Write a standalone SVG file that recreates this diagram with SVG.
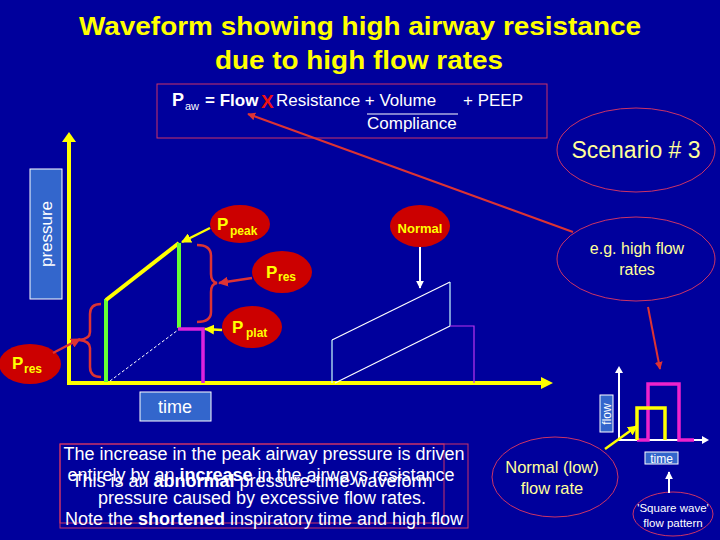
<svg xmlns="http://www.w3.org/2000/svg" width="720" height="540" viewBox="0 0 720 540">
<defs>
<style>
.t{font-family:"Liberation Sans",Arial,sans-serif}
.b{font-weight:bold}
.yl{fill:#FFFF00}
.py{fill:#FFFF99}
.wh{fill:#FFFFFF}
.red{fill:#CC0000}
.ol{fill:none;stroke:#CC3366;stroke-width:1}
.box{fill:#3366CC;stroke:#FFFFFF;stroke-width:1}
</style>
<marker id="ay" viewBox="0 0 10 10" refX="9" refY="5" markerWidth="4" markerHeight="4" orient="auto" markerUnits="strokeWidth"><path d="M0,0 L10,5 L0,10 z" fill="#FFFF00"/></marker>
<marker id="aw" viewBox="0 0 10 10" refX="9" refY="5" markerWidth="4" markerHeight="4" orient="auto" markerUnits="strokeWidth"><path d="M0,0 L10,5 L0,10 z" fill="#FFFFFF"/></marker>
<marker id="ar" viewBox="0 0 10 10" refX="9" refY="5" markerWidth="4" markerHeight="4" orient="auto" markerUnits="strokeWidth"><path d="M0,0 L10,5 L0,10 z" fill="#DD3333"/></marker>
</defs>
<rect width="720" height="540" fill="#00009C"/>

<g id="title" class="t b yl" font-size="26" text-anchor="middle">
<text x="360" y="35" textLength="562" lengthAdjust="spacingAndGlyphs">Waveform showing high airway resistance</text>
<text x="359" y="69" textLength="288" lengthAdjust="spacingAndGlyphs">due to high flow rates</text>
</g>

<g id="formula">
<rect x="157" y="84" width="390" height="54" class="ol" stroke-width="1.2"/>
<text class="t b wh" x="172" y="106" font-size="18">P</text>
<text class="t wh" x="185" y="110" font-size="11">aw</text>
<text class="t b wh" x="205" y="106" font-size="17">= Flow</text>
<text class="t b" x="261" y="108" font-size="19" fill="#EE1111">X</text>
<text class="t wh" x="276" y="106" font-size="17">Resistance + Volume</text>
<text class="t wh" x="463" y="106" font-size="17">+ PEEP</text>
<line x1="367" y1="114" x2="458" y2="114" stroke="#FFFFFF" stroke-width="1.2"/>
<text class="t wh" x="367" y="129" font-size="17">Compliance</text>
</g>

<g id="scenario">
<ellipse cx="636" cy="150" rx="79" ry="42" class="ol"/>
<text class="t py" x="636" y="158" font-size="23" text-anchor="middle">Scenario # 3</text>
</g>

<g id="high-flow">
<ellipse cx="636" cy="259" rx="79" ry="42" class="ol"/>
<text class="t py" x="637" y="254" font-size="16" text-anchor="middle">e.g. high flow</text>
<text class="t py" x="637" y="275" font-size="16" text-anchor="middle">rates</text>
</g>

<g id="pressure-label">
<rect x="30" y="169" width="32" height="130" class="box"/>
<text class="t wh" font-size="17" text-anchor="middle" transform="translate(52,234) rotate(-90)">pressure</text>
</g>

<g id="time-label">
<rect x="140" y="392" width="71" height="29" class="box"/>
<text class="t wh" x="175" y="413" font-size="18" text-anchor="middle">time</text>
</g>

<g id="axes">
<line x1="69" y1="140" x2="69" y2="383" stroke="#FFFF00" stroke-width="4"/>
<polygon points="62,142 69,132 76,142" fill="#FFFF00"/>
<line x1="67" y1="383" x2="542" y2="383" stroke="#FFFF00" stroke-width="4"/>
<polygon points="541,377 553,383 541,389" fill="#FFFF00"/>
</g>

<g id="waveform-high">
<line x1="106" y1="382" x2="106" y2="299" stroke="#66FF33" stroke-width="4"/>
<line x1="106" y1="300" x2="179" y2="243" stroke="#FFFF00" stroke-width="4"/>
<line x1="179" y1="243" x2="179" y2="328" stroke="#66FF33" stroke-width="4"/>
<polyline points="178,329 203,329 203,383" fill="none" stroke="#DD22DD" stroke-width="3.5"/>
<line x1="110" y1="381" x2="178" y2="330" stroke="#FFFFFF" stroke-width="1" stroke-dasharray="3,2"/>
<path d="M101,304 Q90,304 90,314 L90,332 Q90,339 79,340 Q90,341 90,348 L90,367 Q90,377 101,377" fill="none" stroke="#DD3333" stroke-width="2.5"/>
<path d="M197,245 Q211,245 211,256 L211,274 Q211,282 217,283 Q211,284 211,292 L211,312 Q211,322 197,322" fill="none" stroke="#DD3333" stroke-width="2.5"/>
</g>

<g id="waveform-normal" fill="none" stroke-width="1.2">
<line x1="332" y1="383" x2="332" y2="340" stroke="#CCFFFF"/>
<line x1="332" y1="340" x2="450" y2="282" stroke="#FFFFFF"/>
<line x1="450" y1="282" x2="450" y2="326" stroke="#CCFFFF"/>
<polyline points="450,326 474,326 474,383" stroke="#BB33EE"/>
<line x1="335" y1="383" x2="450" y2="326" stroke="#FFFFFF"/>
</g>

<g id="p-peak">
<ellipse cx="240" cy="224" rx="30" ry="19" class="red"/>
<text class="t b yl" x="217" y="230" font-size="17">P</text>
<text class="t b yl" x="230" y="235" font-size="12">peak</text>
</g>

<g id="p-res-upper">
<ellipse cx="282" cy="272" rx="30" ry="21" class="red"/>
<text class="t b yl" x="266" y="278" font-size="17">P</text>
<text class="t b yl" x="278" y="281" font-size="12">res</text>
</g>

<g id="p-plat">
<ellipse cx="252" cy="327" rx="30" ry="21" class="red"/>
<text class="t b yl" x="232" y="333" font-size="17">P</text>
<text class="t b yl" x="246" y="337" font-size="12">plat</text>
</g>

<g id="p-res-lower">
<ellipse cx="30" cy="364" rx="31" ry="20" class="red"/>
<text class="t b yl" x="12" y="369" font-size="17">P</text>
<text class="t b yl" x="24" y="373" font-size="12">res</text>
</g>

<g id="normal">
<ellipse cx="420" cy="226" rx="30" ry="21" class="red"/>
<text class="t b yl" x="420" y="233" font-size="13" text-anchor="middle">Normal</text>
</g>

<g id="flow-graph">
<rect x="600" y="395" width="13" height="37" class="box"/>
<text class="t wh" font-size="12" text-anchor="middle" transform="translate(611,414) rotate(-90)">flow</text>
<line x1="619" y1="441" x2="619" y2="372" stroke="#FFFFFF" stroke-width="2"/>
<polygon points="615,373 619,366 623,373" fill="#FFFFFF"/>
<line x1="619" y1="440" x2="703" y2="440" stroke="#FFFFFF" stroke-width="2"/>
<polygon points="702,436 709,440 702,444" fill="#FFFFFF"/>
<polyline points="637,440 648,440 648,384 679,384 679,440 694,440" fill="none" stroke="#EE22CC" stroke-width="3.5"/>
<polyline points="637,440 637,408 665,408 665,440" fill="none" stroke="#FFFF00" stroke-width="3.5"/>
</g>

<g id="flow-time-label">
<rect x="645" y="452" width="33" height="12" class="box"/>
<text class="t wh" x="661.5" y="463" font-size="12" text-anchor="middle">time</text>
</g>

<g id="normal-low">
<ellipse cx="555" cy="477" rx="63" ry="40" class="ol"/>
<text class="t py" x="552" y="473" font-size="16.5" text-anchor="middle">Normal (low)</text>
<text class="t py" x="552" y="494" font-size="16.5" text-anchor="middle">flow rate</text>
</g>

<g id="square-wave">
<ellipse cx="673" cy="514" rx="40" ry="22" class="ol"/>
<text class="t wh" x="673" y="512" font-size="11.5" text-anchor="middle">'Square wave'</text>
<text class="t wh" x="673" y="527" font-size="11.5" text-anchor="middle">flow pattern</text>
</g>

<g id="explanation" class="t wh" font-size="18" text-anchor="middle">
<rect x="60" y="444" width="408" height="84" class="ol"/>
<rect x="60" y="444" width="384" height="79" class="ol"/>
<text x="264" y="460">The increase in the peak airway pressure is driven</text>
<text x="261" y="481">entirely by an <tspan class="b">increase</tspan> in the airways resistance</text>
<text x="252" y="487">This is an <tspan class="b">abnormal</tspan> pressure-time waveform</text>
<text x="262" y="504">pressure caused by excessive flow rates.</text>
<text x="264" y="525">Note the <tspan class="b">shortened</tspan> inspiratory time and high flow</text>
</g>

<g id="connectors" fill="none">
<line x1="573" y1="232" x2="248" y2="114" stroke="#DD3333" stroke-width="2" marker-end="url(#ar)"/>
<line x1="648" y1="307" x2="660" y2="369" stroke="#DD3333" stroke-width="2" marker-end="url(#ar)"/>
<line x1="210" y1="228" x2="182" y2="242" stroke="#FFFF00" stroke-width="2.5" marker-end="url(#ay)"/>
<line x1="252" y1="278" x2="219" y2="283" stroke="#DD3333" stroke-width="2.5" marker-end="url(#ar)"/>
<line x1="222" y1="330" x2="205" y2="329" stroke="#FFFF00" stroke-width="2.5" marker-end="url(#ay)"/>
<line x1="53" y1="353" x2="80" y2="339" stroke="#DD3333" stroke-width="2.5" marker-end="url(#ar)"/>
<line x1="420" y1="247" x2="420" y2="288" stroke="#FFFFFF" stroke-width="2" marker-end="url(#aw)"/>
<line x1="605" y1="449" x2="637" y2="426" stroke="#FFFF00" stroke-width="2.5" marker-end="url(#ay)"/>
<line x1="669" y1="493" x2="669" y2="472" stroke="#FFFFFF" stroke-width="2" marker-end="url(#aw)"/>
</g>
</svg>
